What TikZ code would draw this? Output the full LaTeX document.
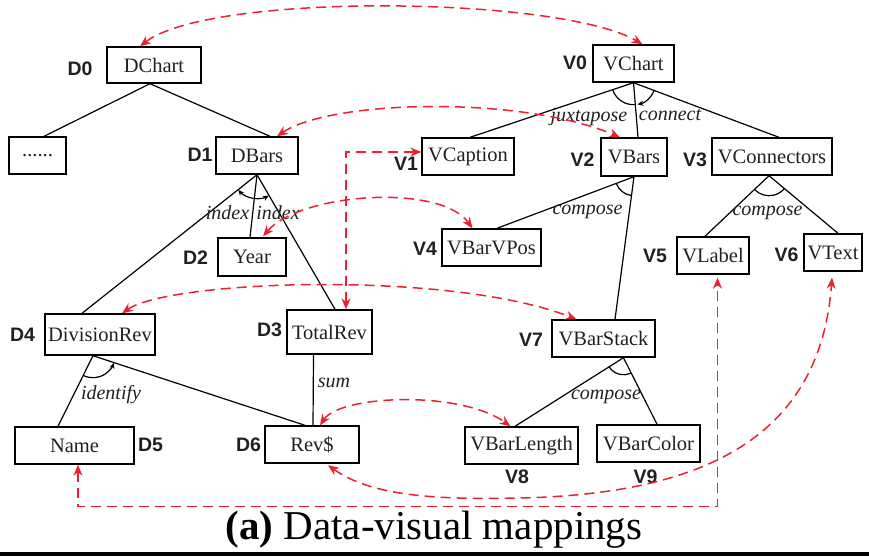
\documentclass[tikz,border=0pt]{standalone}
\usepackage{fontspec}
\setmainfont{Liberation Serif}
\newfontfamily\lblfont{Liberation Sans}
\usetikzlibrary{arrows.meta,calc}
\definecolor{mapred}{RGB}{237,32,50}
\definecolor{ink}{RGB}{35,31,32}
\begin{document}
\begin{tikzpicture}[x=1pt,y=-1pt,
 box/.style={draw=black, line width=1.4pt, inner sep=0pt, font=\fontsize{20.5}{24}\selectfont, text=ink},
 tag/.style={font=\lblfont\bfseries\fontsize{19.5}{22}\selectfont, inner sep=0pt, text=ink},
 rel/.style={font=\itshape\fontsize{20}{22}\selectfont, inner sep=0pt, text=ink},
 edge/.style={line width=1.2pt},
 arcl/.style={line width=1.2pt},
 arcarw/.style={line width=1.2pt, -{Stealth[length=6pt,width=5pt]}},
 map/.style={mapred, line width=1.5pt, dash pattern=on 10pt off 6pt,
   {Stealth[length=11pt,width=9pt]}-{Stealth[length=11pt,width=9pt]}}
]
\useasboundingbox (0,0) rectangle (869,558);

% data tree
\node[box, minimum width=94pt, minimum height=36pt] (dchart) at (154,65) {DChart};
\node[box, minimum width=57pt, minimum height=37pt] (dots) at (37.5,155.5) {......};
\node[box, minimum width=82pt, minimum height=37pt] (dbars) at (257,155.5) {DBars};
\node[box, minimum width=68pt, minimum height=38pt] (year) at (252,257) {Year};
\node[box, minimum width=110pt, minimum height=41pt] (divrev) at (100,334.5) {DivisionRev};
\node[box, minimum width=85pt, minimum height=44pt] (totalrev) at (329.5,332) {TotalRev};
\node[box, minimum width=119pt, minimum height=37pt] (name) at (74.5,445.5) {Name};
\node[box, minimum width=94pt, minimum height=37pt] (rev) at (312,444.5) {Rev\$};

% visual tree
\node[box, minimum width=81pt, minimum height=37pt] (vchart) at (633.5,63.5) {VChart};
\node[box, minimum width=92pt, minimum height=37pt] (vcaption) at (468,156.5) {VCaption};
\node[box, minimum width=66pt, minimum height=38pt] (vbars) at (634,157) {VBars};
\node[box, minimum width=120pt, minimum height=37pt] (vconn) at (772,156.5) {VConnectors};
\node[box, minimum width=99pt, minimum height=37pt] (vbarvpos) at (491.5,247.5) {VBarVPos};
\node[box, minimum width=72pt, minimum height=37pt] (vlabel) at (713,255.5) {VLabel};
\node[box, minimum width=58pt, minimum height=37pt] (vtext) at (833,252.5) {VText};
\node[box, minimum width=103pt, minimum height=37pt] (vbarstack) at (603.5,338.5) {VBarStack};
\node[box, minimum width=113pt, minimum height=37pt] (vbarlength) at (521.5,445.5) {VBarLength};
\node[box, minimum width=103pt, minimum height=37pt] (vbarcolor) at (648.5,443.5) {VBarColor};

% tags
\node[tag] (t0) at (80,69) {D0};
\node[tag] (t1) at (200,154.5) {D1};
\node[tag] (t2) at (195.5,258) {D2};
\node[tag] (t3) at (269.5,329.5) {D3};
\node[tag] (t4) at (22.5,334.5) {D4};
\node[tag] (t5) at (150.5,445) {D5};
\node[tag] (t6) at (248.5,445) {D6};
\node[tag] (u0) at (575,62.5) {V0};
\node[tag] (u1) at (406,163.5) {V1};
\node[tag] (u2) at (582.5,159.5) {V2};
\node[tag] (u3) at (695,160) {V3};
\node[tag] (u4) at (425,248.5) {V4};
\node[tag] (u5) at (655,255.5) {V5};
\node[tag] (u6) at (786.5,254.5) {V6};
\node[tag] (u7) at (531,339.5) {V7};
\node[tag] (u8) at (517,476.5) {V8};
\node[tag] (u9) at (645.5,476.5) {V9};

% apex coordinates
\coordinate (a0) at ([xshift=-4pt]dchart.south);
\coordinate (a1) at (dbars.south);
\coordinate (a4) at ([xshift=-7pt]divrev.south);
\coordinate (a3d) at ([xshift=-16pt]totalrev.south);
\coordinate (b0) at (vchart.south);
\coordinate (b2) at (vbars.south);
\coordinate (b3) at ([xshift=-3pt]vconn.south);
\coordinate (b7) at ([xshift=20pt]vbarstack.south);

% tree edges
\draw[edge] (a0) -- ([xshift=6.5pt]dots.north);
\draw[edge] (a0) -- ([xshift=13pt]dbars.north);
\draw[edge] (a1) -- ([xshift=-18pt]divrev.north);
\draw[edge] (a1) -- ([xshift=-2pt]year.north);
\draw[edge] (a1) -- ([xshift=5.5pt]totalrev.north);
\draw[edge] (a3d) -- ([xshift=1pt]rev.north);
\draw[edge] (a4) -- ([xshift=-16.5pt]name.north);
\draw[edge] (a4) -- ([xshift=-7pt]rev.north);
\draw[edge] (b0) -- ([xshift=2pt]vcaption.north);
\draw[edge] (b0) -- ([xshift=4pt]vbars.north);
\draw[edge] (b0) -- ([xshift=7pt]vconn.north);
\draw[edge] (b2) -- ([xshift=5.5pt]vbarvpos.north);
\draw[edge] (b2) -- ([xshift=11.5pt]vbarstack.north);
\draw[edge] (b3) -- ([xshift=-8pt]vlabel.north);
\draw[edge] (b3) -- ([xshift=5pt]vtext.north);
\draw[edge] (b7) -- ([xshift=-6.5pt]vbarlength.north);
\draw[edge] (b7) -- ([xshift=8.5pt]vbarcolor.north);

% relation arcs
\draw[arcarw] ([shift={(96.2:24)}]a1) arc[start angle=96.2, end angle=141.3, radius=24];
\draw[arcarw] ([shift={(96.2:24)}]a1) arc[start angle=96.2, end angle=60.2, radius=24];
\draw[arcl] ([shift={(161.1:22)}]b0) arc[start angle=161.1, end angle=85.4, radius=22];
\draw[arcarw] ([shift={(21:22)}]b0) arc[start angle=21, end angle=80, radius=22];
\draw[arcl] ([shift={(158.8:19)}]b2) arc[start angle=158.8, end angle=97.5, radius=19];
\draw[arcl] ([shift={(135.9:20)}]b3) arc[start angle=135.9, end angle=40.5, radius=20];
\draw[arcl] ([shift={(147.3:17)}]b7) arc[start angle=147.3, end angle=64.1, radius=17];
\draw[arcarw] ([shift={(115.9:22)}]a4) arc[start angle=115.9, end angle=18.5, radius=22];

% relation labels
\node[rel] (r1) at (227.5,213) {index};
\node[rel] (r2) at (278,213) {index};
\node[rel] (r3) at (589,117) {juxtapose};
\node[rel] (r4) at (670,115) {connect};
\node[rel] (r5) at (587.5,212) {compose};
\node[rel] (r6) at (767.5,213) {compose};
\node[rel] (r7) at (606,397) {compose};
\node[rel] (r8) at (334,383) {sum};
\node[rel] (r9) at (111,395) {identify};

% mappings
\draw[map] ([xshift=-14pt]dchart.north) .. controls (210,-8) and (560,-4) .. ([xshift=9pt]vchart.north);
\draw[map] ([xshift=20pt]dbars.north) .. controls (330,100) and (520,95) .. ([xshift=-14pt]vbars.north);
\draw[map] ([yshift=4.5pt]vcaption.west) -| ([xshift=16.5pt]totalrev.north);
\draw[map] ([xshift=11pt,yshift=1pt]year.north) .. controls (300,193) and (440,183) .. ([xshift=-19pt]vbarvpos.north);
\draw[map] ([xshift=22pt]divrev.north) .. controls (170,280) and (450,270) .. ([xshift=-27pt]vbarstack.north);
\draw[map] ([xshift=8pt]rev.north) .. controls (340,395) and (460,390) .. ([xshift=-11pt]vbarlength.north);
\draw[map] ([xshift=16pt,yshift=-1.5pt]rev.south) .. controls (370,495) and (430,500) .. (520,498)
   .. controls (700,494) and (820,440) .. ([xshift=-1pt,yshift=-6pt]vtext.south);
\draw[map] ([xshift=3.5pt]name.south) -- ++(0,42) -| ([xshift=4.5pt,yshift=-3pt]vlabel.south);

% caption
\node[font=\fontsize{41}{44}\selectfont, inner sep=0pt, anchor=base, text=black] (cap) at (434,539) {\textbf{(a)} Data-visual mappings};
\draw[line width=3.5pt] (0,554) -- (869,554);
\end{tikzpicture}
\end{document}
